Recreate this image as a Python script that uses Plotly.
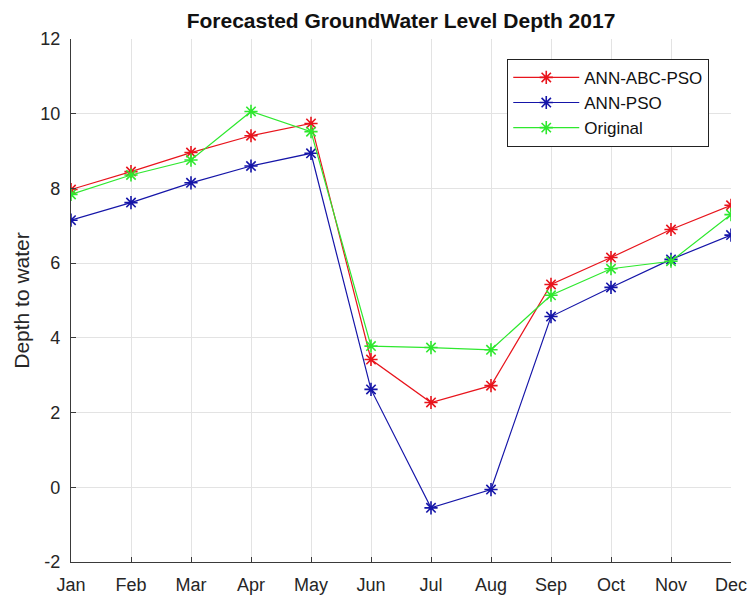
import plotly.graph_objects as go

months = ["Jan", "Feb", "Mar", "Apr", "May", "Jun", "Jul", "Aug", "Sep", "Oct", "Nov", "Dec"]
ann_abc_pso = [7.97, 8.45, 8.96, 9.41, 9.74, 3.42, 2.27, 2.72, 5.43, 6.15, 6.90, 7.55]
ann_pso = [7.15, 7.62, 8.15, 8.60, 8.94, 2.62, -0.55, -0.06, 4.57, 5.35, 6.10, 6.75]
original = [7.84, 8.36, 8.76, 10.06, 9.52, 3.78, 3.74, 3.68, 5.14, 5.85, 6.05, 7.30]
y_ticks = [-2, 0, 2, 4, 6, 8, 10, 12]
y_tick_labels = ["-2", "0", "2", "4", "6", "8", "10", "12"]

x_idx = list(range(len(months)))

series = [
    ("ANN-ABC-PSO", ann_abc_pso, "#e8141c"),
    ("ANN-PSO", ann_pso, "#1515a8"),
    ("Original", original, "#2ee82e"),
]

fig = go.Figure()
for name, vals, color in series:
    fig.add_trace(go.Scatter(
        x=x_idx, y=vals, name=name, mode="lines+markers",
        line=dict(color=color, width=1.2),
        marker=dict(symbol="asterisk-open", size=11,
                    line=dict(color=color, width=1.6)),
    ))

font_family = "Liberation Sans, Arial, sans-serif"

fig.update_layout(
    width=749, height=598,
    margin=dict(l=71, r=18, t=39, b=36),
    paper_bgcolor="white", plot_bgcolor="white",
    font=dict(family=font_family, color="#262626", size=18),
    title=dict(text="<b>Forecasted GroundWater Level Depth 2017</b>",
               x=0.5, xref="paper", y=1 - 21 / 598, yref="container",
               xanchor="center", yanchor="middle",
               font=dict(size=21, color="#111111")),
    showlegend=True,
    legend=dict(x=0.661, y=0.962, xanchor="left", yanchor="top",
                bgcolor="white", bordercolor="#222222", borderwidth=1,
                font=dict(size=17, color="#111111"),
                itemwidth=66, tracegroupgap=0),
)

fig.update_xaxes(
    range=[0, 11], tickmode="array", tickvals=x_idx, ticktext=months,
    showgrid=True, gridcolor="#e3e3e3", gridwidth=1,
    showline=True, linecolor="#3a3a3a", linewidth=1.2,
    ticks="inside", ticklen=5, tickcolor="#3a3a3a",
    zeroline=False, mirror=False, ticklabelstandoff=6, automargin=False,
    tickfont=dict(size=18, color="#262626"),
)
fig.update_yaxes(
    range=[-2, 12], tickmode="array", tickvals=y_ticks, ticktext=y_tick_labels,
    showgrid=True, gridcolor="#e3e3e3", gridwidth=1,
    showline=True, linecolor="#3a3a3a", linewidth=1.2,
    ticks="inside", ticklen=5, tickcolor="#3a3a3a",
    zeroline=False, mirror=False, ticklabelstandoff=6, automargin=False,
    tickfont=dict(size=18, color="#262626"),
    title=dict(text="Depth to water", font=dict(size=21, color="#262626"),
               standoff=4),
)

fig.write_html("out.html")
